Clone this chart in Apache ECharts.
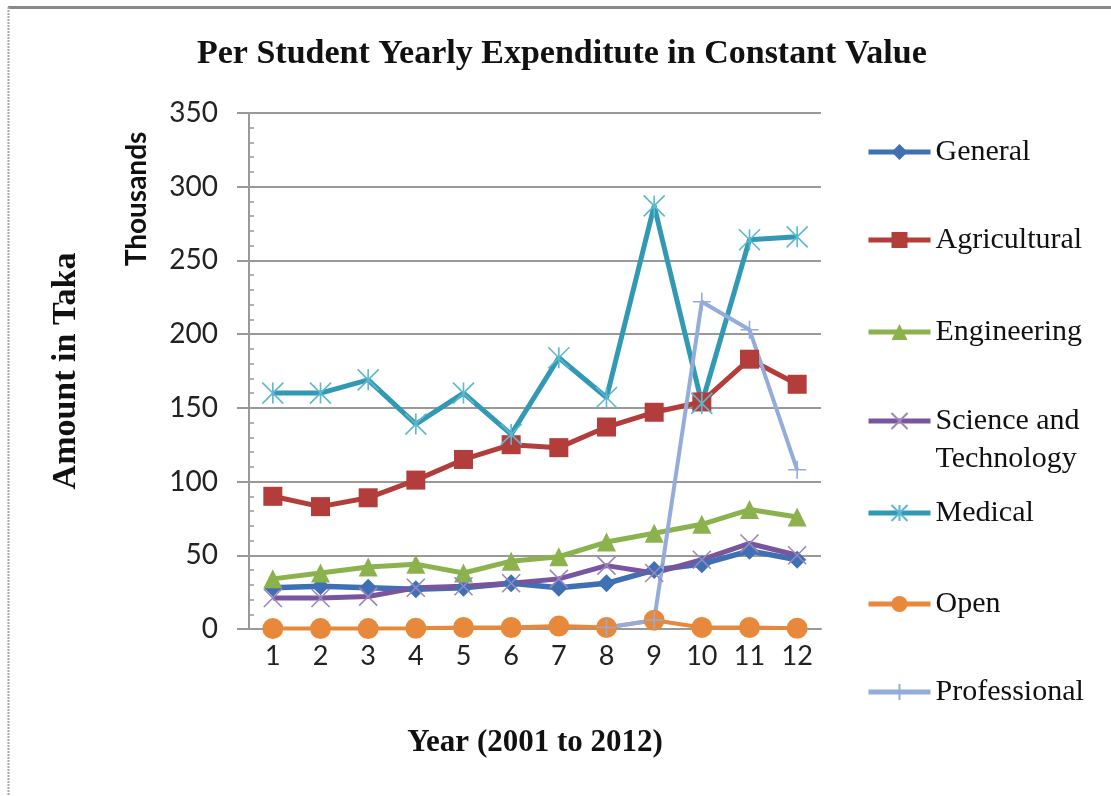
<!DOCTYPE html>
<html>
<head>
<meta charset="utf-8">
<title>Per Student Yearly Expenditute in Constant Value</title>
<script src="https://cdn.jsdelivr.net/npm/echarts@6/dist/echarts.min.js"></script>
<style>
  html, body { margin: 0; padding: 0; background: #fff; }
  #chart { width: 1111px; height: 796px; }
</style>
</head>
<body>
<div id="chart"></div>
<script>
// years 2001..2012 shown as 1..12
var years = ["1", "2", "3", "4", "5", "6", "7", "8", "9", "10", "11", "12"];
var yTicks = [0, 50, 100, 150, 200, 250, 300, 350];

// thousand taka per student
var general = [28, 29, 28, 27, 28, 31, 28, 31, 40, 44, 53, 47];
var agricultural = [90, 83, 89, 101, 115, 125, 123, 137, 147, 154, 183, 166];
var engineering = [34, 38, 42, 44, 38, 46, 49, 59, 65, 71, 81, 76];
var sciTech = [21, 21, 22, 28, 29, 31, 34, 43, 38, 47, 58, 50];
var medical = [160, 160, 169, 139, 160, 132, 184, 157, 287, 153, 264, 266];
var open = [0.3, 0.3, 0.3, 0.5, 1, 1, 2, 1, 6, 1, 1, 0.5];
var professional = [null, null, null, null, null, null, null, 1, 6, 222, 203, 108];

var names = ["General", "Agricultural", "Engineering", "Science and Technology", "Medical", "Open", "Professional"];

var chart = echarts.init(document.getElementById("chart"));

var serif = "Liberation Serif";
var sans = "Lato";

function lineSeries(name, data, color, symbol, size, width, thin) {
  return {
    name: name,
    type: "line",
    data: data,
    symbol: symbol,
    symbolSize: size,
    showAllSymbol: true,
    lineStyle: { color: color, width: width },
    itemStyle: thin
      ? { color: "rgba(0,0,0,0)", borderColor: thin, borderWidth: 1.6 }
      : { color: color, borderWidth: 0 },
    emphasis: { disabled: true }
  };
}

// legend rows (centre y of each entry)
var legendRows = [152, 240, 332, 421, 513, 604, 692];
var legends = names.map(function (n, i) {
  var lg = {
    data: [n],
    orient: "vertical",
    left: 866,
    top: legendRows[i] - 16,
    padding: 0,
    itemWidth: 62,
    itemHeight: 20,
    selectedMode: false,
    lineStyle: { width: 5 },
    textStyle: { fontFamily: serif, fontSize: 30, color: "#111", lineHeight: 32 }
  };
  if (n === "Science and Technology") {
    // empty first line keeps the icon level with "Science and"
    lg.formatter = function () { return " \nScience and\nTechnology"; };
    lg.textStyle.lineHeight = 38;
    lg.top = legendRows[i] - 57;
  }
  return lg;
});

chart.setOption({
  animation: false,
  backgroundColor: "#fff",
  title: {
    text: "Per Student Yearly Expenditute in Constant Value",
    left: 197,
    top: 37,
    padding: 0,
    textStyle: { fontFamily: serif, fontWeight: "bold", fontSize: 34, color: "#111" }
  },
  legend: legends,
  grid: { left: 249, top: 113, width: 572, height: 516, containLabel: false },
  xAxis: {
    type: "category",
    data: years,
    boundaryGap: true,
    name: "Year (2001 to 2012)",
    nameLocation: "middle",
    nameGap: 98,
    nameTextStyle: { fontFamily: serif, fontWeight: "bold", fontSize: 31, color: "#111" },
    axisLine: { lineStyle: { color: "#999", width: 2 } },
    axisTick: { show: false },
    axisLabel: { fontFamily: sans, fontSize: 27, color: "#222", margin: 14 }
  },
  yAxis: [
    {
      type: "value",
      min: yTicks[0],
      max: yTicks[yTicks.length - 1],
      interval: 50,
      position: "left",
      name: "Amount in Taka",
      nameLocation: "middle",
      nameGap: 166,
      nameTextStyle: { fontFamily: serif, fontWeight: "bold", fontSize: 34, color: "#111" },
      axisLine: { show: true, lineStyle: { color: "#999", width: 2 } },
      axisTick: { show: true, length: 12, lineStyle: { color: "#999", width: 2 } },
      axisLabel: { fontFamily: sans, fontSize: 28, color: "#222", margin: 31 },
      splitLine: { lineStyle: { color: "#999", width: 2 } }
    },
    {
      // minor ticks, pointing into the plot
      type: "value",
      min: 0,
      max: 350,
      interval: 10,
      position: "left",
      axisLine: { show: false },
      axisTick: { show: true, inside: true, length: 5, lineStyle: { color: "#999", width: 1.5 } },
      axisLabel: { show: false },
      splitLine: { show: false }
    }
  ],
  graphic: [
    {
      type: "text",
      x: 137,
      y: 199,
      rotation: Math.PI / 2,
      style: {
        text: "Thousands",
        fontFamily: sans,
        fontWeight: "bold",
        fontSize: 28,
        fill: "#111",
        align: "center",
        verticalAlign: "middle"
      }
    },
    { type: "line", shape: { x1: 8, y1: 7.5, x2: 1111, y2: 7.5 }, style: { stroke: "#8a8a8a", lineWidth: 3 } },
    { type: "line", shape: { x1: 8.5, y1: 7, x2: 8.5, y2: 796 }, style: { stroke: "#a6a6a6", lineWidth: 2, lineDash: [2, 1] } }
  ],
  series: [
    lineSeries(names[0], general, "#3f70b3", "diamond", 18, 5.5),
    lineSeries(names[1], agricultural, "#b23d3a", "rect", 19, 5),
    lineSeries(names[2], engineering, "#8cb24e", "triangle", 19, 5),
    lineSeries(names[3], sciTech, "#7a559f", "path://M0,0L10,10M10,0L0,10", 18, 5, "#9b86bd"),
    lineSeries(names[4], medical, "#3199b3", "path://M0,0L10,10M10,0L0,10M5,0L5,10", 21, 5, "#5cb8cf"),
    lineSeries(names[5], open, "#e8883a", "circle", 21, 4),
    lineSeries(names[6], professional, "#94acd9", "path://M5,0L5,10M0,5L10,5", 18, 4, "#94acd9")
  ]
});
</script>
</body>
</html>
